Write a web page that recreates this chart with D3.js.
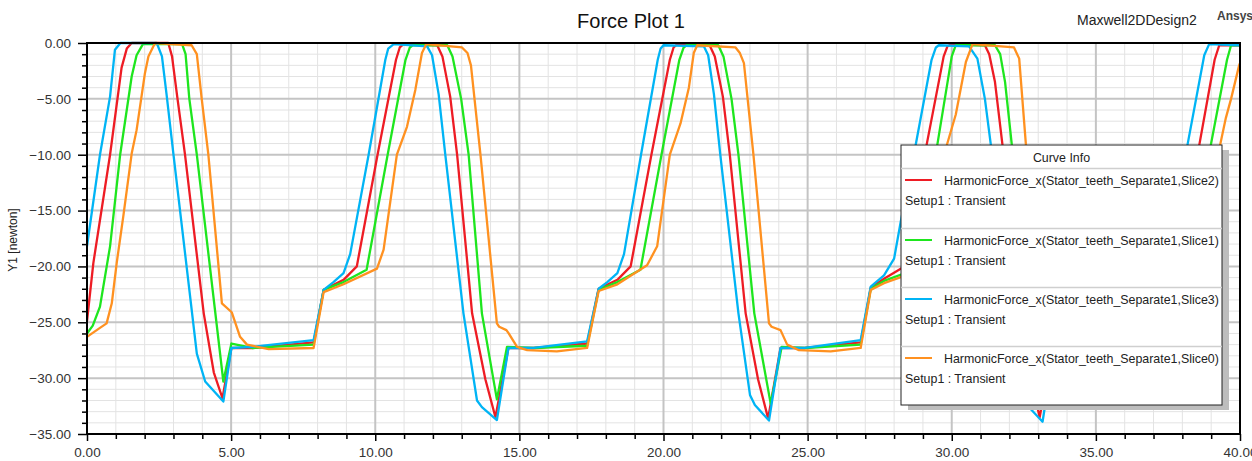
<!DOCTYPE html>
<html>
<head>
<meta charset="utf-8">
<script src="https://cdn.jsdelivr.net/npm/d3@7"></script>
<style>
  html, body { margin: 0; padding: 0; background: #fff; }
  svg { display: block; font-family: "Liberation Sans", Arial, sans-serif; }
</style>
</head>
<body>
<svg id="chart" width="1252" height="461"></svg>
<script>
// Time axis (ms) and force axis (newton) tick values
const xTicks = [0, 5, 10, 15, 20, 25, 30, 35, 40];
const yTicks = [0, -5, -10, -15, -20, -25, -30, -35];

// Harmonic force curves: [time, force] pairs
const slice2 = [
  [0,-24.9],[0.22,-19.7],[0.8,-10.0],[1.2,-2.2],[1.38,-0.5],[1.55,0],[2.82,0],[2.95,-1.2],[3.13,-4.8],[3.4,-10.0],[4.05,-24.2],[4.4,-29.5],[4.7,-31.8],[5.01,-27.3],[5.74,-27.3],[7.86,-26.8],[8.21,-22.1],
  [8.9,-21.2],[9.36,-20.0],[10.08,-10.0],[10.72,-1.5],[10.85,-0.4],[10.98,-0.1],[12.15,-0.2],[12.33,-1.2],[12.6,-4.8],[12.84,-10.0],[13.36,-24.2],[13.82,-30.1],[14.17,-33.5],[14.62,-27.3],[15.49,-27.3],[17.35,-26.9],[17.75,-22.0],
  [18.4,-21.2],[18.86,-20.0],[19.58,-10.0],[20.22,-1.5],[20.35,-0.4],[20.48,-0.1],[21.6,-0.2],[21.78,-1.2],[22.06,-4.8],[22.3,-10.0],[22.85,-24.2],[23.28,-30.1],[23.63,-33.6],[24.06,-27.3],[24.9,-27.3],[26.84,-26.8],[27.19,-21.9],
  [27.65,-21.1],[28.36,-20.0],[29.13,-9.1],[29.72,-1.2],[29.85,-0.3],[30.0,-0.1],[31.15,-0.2],[31.3,-1.0],[31.5,-3.5],[31.8,-10.0],[32.33,-24.2],[32.75,-30.1],[33.05,-33.5],[33.5,-27.3],[34.4,-27.3],[36.3,-26.8],[36.65,-21.9],
  [37.1,-21.2],[37.86,-20.0],[38.59,-9.1],[39.12,-1.5],[39.28,-0.2],[40,-0.2]
];
const slice1 = [
  [0,-26.0],[0.2,-25.3],[0.45,-23.6],[0.8,-18.2],[1.15,-10.0],[1.55,-3.0],[1.72,-1.1],[1.94,-0.1],[3.3,-0.1],[3.42,-1.0],[3.55,-5.0],[3.81,-10.0],[4.73,-30.3],[5.01,-26.9],[5.74,-27.3],[7.86,-27.0],[8.21,-22.1],
  [8.9,-21.4],[9.7,-20.3],[10.43,-10.0],[11.05,-1.5],[11.2,-0.4],[11.3,-0.2],[12.5,-0.2],[12.68,-1.2],[12.98,-5.0],[13.24,-10.0],[13.7,-24.2],[14.22,-31.9],[14.57,-27.2],[15.49,-27.3],[17.35,-27.1],[17.75,-22.1],
  [18.4,-21.4],[19.2,-20.3],[19.93,-10.0],[20.55,-1.5],[20.7,-0.4],[20.8,-0.2],[21.9,-0.2],[22.08,-1.2],[22.36,-5.0],[22.6,-10.0],[23.15,-24.2],[23.72,-32.3],[24.1,-27.2],[24.9,-27.3],[26.84,-27.0],[27.19,-22.0],
  [27.65,-21.3],[28.7,-20.3],[29.5,-9.1],[30.0,-1.2],[30.14,-0.2],[31.5,-0.2],[31.68,-1.0],[31.85,-3.5],[32.12,-10.0],[32.65,-24.2],[33.15,-32.3],[33.52,-27.2],[34.4,-27.3],[36.3,-27.0],[36.65,-22.0],
  [37.1,-21.4],[38.2,-20.3],[38.99,-9.1],[39.55,-1.5],[39.69,-0.2],[40,-0.2]
];
const slice3 = [
  [0,-18.2],[0.45,-10.0],[0.8,-4.8],[0.97,-0.6],[1.16,0],[2.42,0],[2.6,-1.2],[2.76,-4.6],[3.0,-10.0],[3.81,-27.8],[4.1,-30.3],[4.73,-32.1],[5.01,-27.3],[5.74,-27.2],[7.86,-26.6],[8.21,-22.1],
  [8.55,-21.4],[8.9,-20.6],[9.13,-18.9],[9.77,-10.0],[10.35,-1.5],[10.45,-0.5],[10.64,-0.1],[11.8,-0.3],[11.97,-1.1],[12.2,-4.6],[12.43,-10.0],[13.06,-24.2],[13.53,-32.0],[13.7,-32.6],[14.22,-33.75],[14.62,-27.3],[15.49,-27.3],[17.35,-26.7],[17.75,-22.0],
  [18.05,-21.4],[18.4,-20.6],[18.63,-18.9],[19.22,-10.0],[19.8,-1.5],[19.9,-0.5],[20.0,-0.2],[21.4,-0.3],[21.55,-1.1],[21.75,-4.6],[21.97,-10.0],[22.6,-24.2],[23.0,-31.5],[23.17,-32.4],[23.66,-33.8],[24.06,-27.3],[24.9,-27.3],[26.84,-26.6],[27.19,-21.8],
  [27.65,-20.8],[28.0,-19.3],[28.23,-16.0],[28.75,-9.1],[29.3,-1.5],[29.45,-0.4],[29.55,-0.2],[30.6,-0.3],[30.89,-1.4],[31.15,-5.0],[31.4,-10.0],[32.06,-24.2],[32.5,-31.8],[32.68,-32.6],[33.15,-33.9],[33.55,-27.3],[34.4,-27.3],[36.3,-26.6],[36.65,-21.9],
  [37.0,-21.3],[37.35,-20.6],[37.6,-18.9],[38.18,-9.1],[38.76,-1.1],[38.93,-0.1],[40,-0.2]
];
const slice0 = [
  [0,-26.3],[0.45,-25.5],[0.68,-25.1],[0.86,-23.3],[1.03,-19.7],[1.26,-15.5],[1.55,-9.9],[1.72,-7.8],[2.01,-2.7],[2.13,-1.2],[2.36,0],[3.63,-0.2],[3.81,-1.0],[3.98,-5.0],[4.21,-10.0],[4.68,-23.3],[5.02,-24.1],[5.31,-26.3],[5.55,-27.0],[6.3,-27.4],[7.86,-27.3],[8.21,-22.3],
  [8.9,-21.6],[10.06,-20.2],[10.29,-18.5],[10.75,-10.0],[11.1,-7.5],[11.39,-4.2],[11.62,-0.9],[11.77,-0.1],[13.01,-0.4],[13.2,-0.9],[13.32,-2.0],[13.65,-10.0],[14.22,-25.1],[14.3,-25.4],[14.55,-25.7],[14.63,-26.0],[14.92,-27.2],[15.27,-27.5],[16.3,-27.6],[17.35,-27.3],[17.75,-22.2],
  [18.4,-21.6],[19.43,-19.9],[19.78,-18.2],[20.22,-10.0],[20.59,-7.2],[20.88,-4.0],[21.05,-0.9],[21.17,-0.2],[22.5,-0.4],[22.65,-0.9],[22.79,-1.8],[23.12,-10.0],[23.66,-25.1],[23.75,-25.4],[24.06,-25.7],[24.29,-27.0],[24.7,-27.5],[25.8,-27.6],[26.84,-27.3],[27.19,-22.1],
  [27.65,-21.5],[29.06,-20.2],[29.29,-18.5],[29.8,-9.4],[30.14,-6.4],[30.49,-1.7],[30.72,-0.1],[32.16,-0.4],[32.34,-1.4],[32.6,-10.0],[33.2,-25.1],[33.3,-25.4],[33.55,-25.8],[33.85,-27.2],[34.2,-27.5],[35.3,-27.6],[36.3,-27.3],[36.65,-22.2],
  [37.4,-21.6],[38.56,-20.2],[38.79,-18.5],[39.28,-9.5],[39.51,-6.7],[39.69,-5.0],[39.97,-2.0],[40,-1.8]
];

const seriesNames = [
  "HarmonicForce_x(Stator_teeth_Separate1,Slice2)",
  "HarmonicForce_x(Stator_teeth_Separate1,Slice1)",
  "HarmonicForce_x(Stator_teeth_Separate1,Slice3)",
  "HarmonicForce_x(Stator_teeth_Separate1,Slice0)"
];
const seriesData = [slice2, slice1, slice3, slice0];
const seriesColors = ["#ee1c24", "#1ee61e", "#00b4f5", "#ff9120"];
const setupLabel = "Setup1 : Transient";

const svg = d3.select("#chart");
const W = 1252, H = 461;
const plot = { left: 87, right: 1240, top: 43, bottom: 434 };

svg.append("rect").attr("width", W).attr("height", H).attr("fill", "#fff");

const x = d3.scaleLinear().domain([0, 40]).range([plot.left, plot.right]);
const y = d3.scaleLinear().domain([-35, 0]).range([plot.bottom, plot.top]);

const xMinor = d3.range(0, 41, 1).filter(v => v % 5 !== 0);
const yMinor = d3.range(-35, 1, 1).filter(v => v % 5 !== 0);

// grid
const grid = svg.append("g");
grid.selectAll(".vminor").data(xMinor).join("line")
  .attr("x1", d => x(d)).attr("x2", d => x(d))
  .attr("y1", plot.top).attr("y2", plot.bottom)
  .attr("stroke", "#e3e3e3").attr("stroke-width", 1);
grid.selectAll(".hminor").data(yMinor).join("line")
  .attr("x1", plot.left).attr("x2", plot.right)
  .attr("y1", d => y(d)).attr("y2", d => y(d))
  .attr("stroke", "#e3e3e3").attr("stroke-width", 1);
grid.selectAll(".vmajor").data(xTicks).join("line")
  .attr("x1", d => x(d)).attr("x2", d => x(d))
  .attr("y1", plot.top).attr("y2", plot.bottom)
  .attr("stroke", "#c4c4c4").attr("stroke-width", 2);
grid.selectAll(".hmajor").data(yTicks).join("line")
  .attr("x1", plot.left).attr("x2", plot.right)
  .attr("y1", d => y(d)).attr("y2", d => y(d))
  .attr("stroke", "#c4c4c4").attr("stroke-width", 2);

// curves
svg.append("defs").append("clipPath").attr("id", "plotClip")
  .append("rect").attr("x", plot.left).attr("y", plot.top - 2)
  .attr("width", plot.right - plot.left).attr("height", plot.bottom - plot.top + 2);

const line = d3.line().x(d => x(d[0])).y(d => y(d[1]));
svg.append("g").attr("clip-path", "url(#plotClip)")
  .selectAll("path").data(seriesData).join("path")
  .attr("d", line)
  .attr("fill", "none")
  .attr("stroke", (d, i) => seriesColors[i])
  .attr("stroke-width", 2.3)
  .attr("stroke-linejoin", "round");

// axes
const fmt = d3.format(".2f");
function styleAxis(g) {
  g.select(".domain").remove();
  g.selectAll(".tick line").attr("stroke", "#000").attr("stroke-width", 1.5);
  g.selectAll(".tick text").attr("fill", "#333").style("font-size", "13.5px")
    .style("font-family", "'Liberation Sans', Arial, sans-serif");
}
svg.append("g").attr("transform", `translate(${plot.left},0)`)
  .call(d3.axisLeft(y).tickValues(yTicks).tickFormat(fmt).tickSize(9).tickPadding(7))
  .call(styleAxis);
svg.append("g").attr("transform", `translate(${plot.left},0)`)
  .call(d3.axisLeft(y).tickValues(yMinor).tickFormat("").tickSize(5))
  .call(styleAxis);
svg.append("g").attr("transform", `translate(0,${plot.bottom})`)
  .call(d3.axisBottom(x).tickValues(xTicks).tickFormat(fmt).tickSize(7).tickPadding(6))
  .call(styleAxis);
svg.append("g").attr("transform", `translate(0,${plot.bottom})`)
  .call(d3.axisBottom(x).tickValues(xMinor).tickFormat("").tickSize(5))
  .call(styleAxis);

// frame
svg.append("rect")
  .attr("x", plot.left).attr("y", plot.top)
  .attr("width", plot.right - plot.left).attr("height", plot.bottom - plot.top)
  .attr("fill", "none").attr("stroke", "#000").attr("stroke-width", 2);

// titles
svg.append("text").attr("x", 631).attr("y", 28).attr("text-anchor", "middle")
  .attr("fill", "#111").style("font-size", "20px").text("Force Plot 1");
svg.append("text").attr("x", 1077).attr("y", 25)
  .attr("fill", "#222").style("font-size", "14px").text("Maxwell2DDesign2");
svg.append("text").attr("x", 1217).attr("y", 20)
  .attr("fill", "#444").style("font-size", "12px").style("font-weight", "bold").text("Ansys");
svg.append("text")
  .attr("transform", "translate(17,240) rotate(-90)")
  .attr("text-anchor", "middle").attr("fill", "#222")
  .style("font-size", "12px").text("Y1 [newton]");

// legend
const lg = { x: 901, y: 145, w: 321, h: 260 };
const legend = svg.append("g");
legend.append("rect").attr("x", lg.x + 7).attr("y", lg.y + 5)
  .attr("width", lg.w).attr("height", lg.h).attr("fill", "#bdbdbd");
legend.append("rect").attr("x", lg.x).attr("y", lg.y)
  .attr("width", lg.w).attr("height", lg.h)
  .attr("fill", "#fff").attr("stroke", "#222").attr("stroke-width", 1);
legend.append("text").attr("x", lg.x + lg.w / 2).attr("y", 162)
  .attr("text-anchor", "middle").attr("fill", "#222")
  .style("font-size", "12.4px").text("Curve Info");

const rowTop = [168, 228, 287, 346];
seriesNames.forEach((name, i) => {
  const top = rowTop[i];
  legend.append("line").attr("x1", lg.x).attr("x2", lg.x + lg.w)
    .attr("y1", top + 0.5).attr("y2", top + 0.5)
    .attr("stroke", "#cfcfcf").attr("stroke-width", 1.5);
  legend.append("line").attr("x1", 905).attr("x2", 932)
    .attr("y1", top + 12).attr("y2", top + 12)
    .attr("stroke", seriesColors[i]).attr("stroke-width", 2);
  legend.append("text").attr("x", 944).attr("y", top + 16.5)
    .attr("fill", "#222").style("font-size", "12.4px").text(name);
  legend.append("text").attr("x", 905).attr("y", top + 37)
    .attr("fill", "#222").style("font-size", "12.4px").text(setupLabel);
});
</script>
</body>
</html>
